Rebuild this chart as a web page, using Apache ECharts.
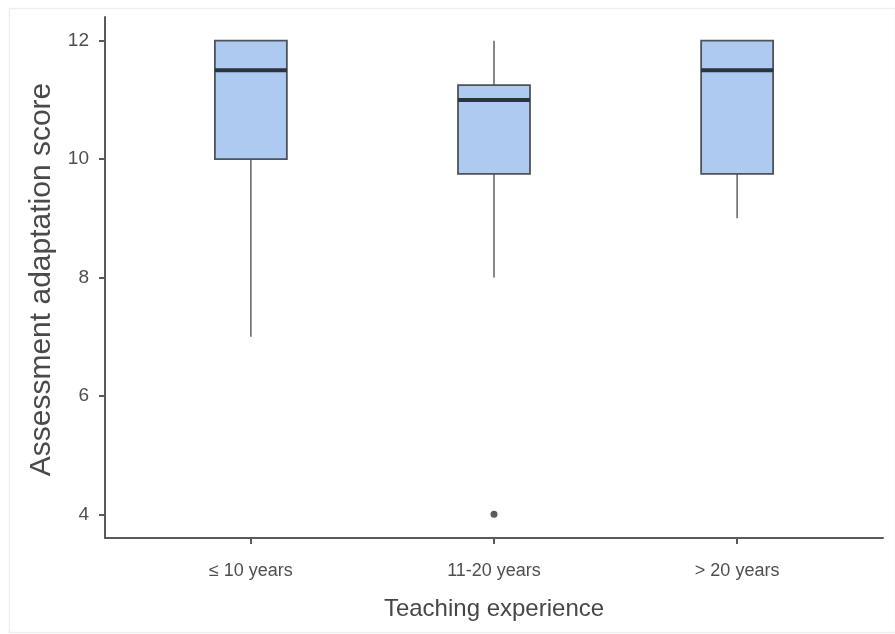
<!DOCTYPE html>
<html>
<head>
<meta charset="utf-8">
<script src="https://cdn.jsdelivr.net/npm/echarts@6/dist/echarts.min.js"></script>
<style>
html,body{margin:0;padding:0;background:#fff;}
#chart{width:895px;height:634px;}
</style>
</head>
<body>
<div id="chart"></div>
<script>
// Data
var categories = ['≤ 10 years', '11-20 years', '> 20 years'];
var boxMin    = [7, 8, 9];
var boxQ1     = [10, 9.75, 9.75];
var boxMedian = [11.5, 11, 11.5];
var boxQ3     = [12, 11.25, 12];
var boxMax    = [12, 12, 12];
var outliers  = [[2, 4]]; // [category position, value]
var yTicks    = [4, 6, 8, 10, 12];
var xTicks    = [1, 2, 3];

var boxData = categories.map(function (c, i) {
  return [i + 1, boxMin[i], boxQ1[i], boxMedian[i], boxQ3[i], boxMax[i]];
});

var chart = echarts.init(document.getElementById('chart'), null, {renderer: 'canvas'});
var font = '"Liberation Sans", Arial, Helvetica, sans-serif';
var BOX_W = 0.296; // in category units

chart.setOption({
  backgroundColor: '#ffffff',
  animation: false,
  graphic: [{
    type: 'rect', left: 7, top: 6, silent: true,
    shape: {width: 886, height: 624},
    style: {fill: 'none', stroke: '#eeeeee', lineWidth: 1.5}
  }],
  grid: {left: 105, right: 12, top: 17, bottom: 96},
  xAxis: {
    type: 'value', min: 0.4, max: 3.6, interval: 1,
    name: 'Teaching experience', nameLocation: 'middle', nameGap: 59,
    nameTextStyle: {fontFamily: font, fontSize: 24, color: '#474747'},
    axisLine: {show: true, lineStyle: {color: '#5a5a5a', width: 2}},
    axisTick: {show: true, length: 6, lineStyle: {color: '#5a5a5a', width: 2},
      customValues: xTicks},
    axisLabel: {fontFamily: font, fontSize: 18, color: '#4f4f4f', margin: 24,
      customValues: xTicks,
      formatter: function (v) { return categories[Math.round(v) - 1] || ''; }},
    splitLine: {show: false}
  },
  yAxis: {
    type: 'value', min: 3.6, max: 12.4,
    name: 'Assessment adaptation score', nameLocation: 'middle', nameGap: 38,
    nameTextStyle: {fontFamily: font, fontSize: 30, color: '#4a4a4a', padding: [0, 4, 0, 0]},
    axisLine: {show: true, lineStyle: {color: '#5a5a5a', width: 2}},
    axisTick: {show: true, length: 6, lineStyle: {color: '#5a5a5a', width: 2},
      customValues: yTicks},
    axisLabel: {fontFamily: font, fontSize: 19, color: '#4f4f4f', margin: 16,
      customValues: yTicks},
    splitLine: {show: false}
  },
  series: [{
    type: 'custom',
    data: boxData,
    encode: {x: 0, y: [1, 2, 3, 4, 5]},
    renderItem: function (params, api) {
      var x = api.value(0);
      var pMin = api.coord([x, api.value(1)]);
      var pQ1 = api.coord([x, api.value(2)]);
      var pMed = api.coord([x, api.value(3)]);
      var pQ3 = api.coord([x, api.value(4)]);
      var pMax = api.coord([x, api.value(5)]);
      var hw = api.size([BOX_W, 0])[0] / 2;
      var wh = {stroke: '#6b6b6b', lineWidth: 1.6};
      return {
        type: 'group',
        children: [
          {type: 'line', shape: {x1: pMin[0], y1: pMin[1], x2: pQ1[0], y2: pQ1[1]}, style: wh},
          {type: 'line', shape: {x1: pQ3[0], y1: pQ3[1], x2: pMax[0], y2: pMax[1]}, style: wh},
          {type: 'rect', shape: {x: pQ3[0] - hw, y: pQ3[1], width: hw * 2, height: pQ1[1] - pQ3[1]},
            style: {fill: '#aecaf0', stroke: '#4c535c', lineWidth: 1.8}},
          {type: 'line', shape: {x1: pMed[0] - hw, y1: pMed[1], x2: pMed[0] + hw, y2: pMed[1]},
            style: {stroke: '#2b333e', lineWidth: 4}}
        ]
      };
    },
    z: 2
  }, {
    type: 'scatter',
    data: outliers,
    symbol: 'circle',
    symbolSize: 7,
    itemStyle: {color: '#333'},
    z: 3
  }]
});
</script>
</body>
</html>
